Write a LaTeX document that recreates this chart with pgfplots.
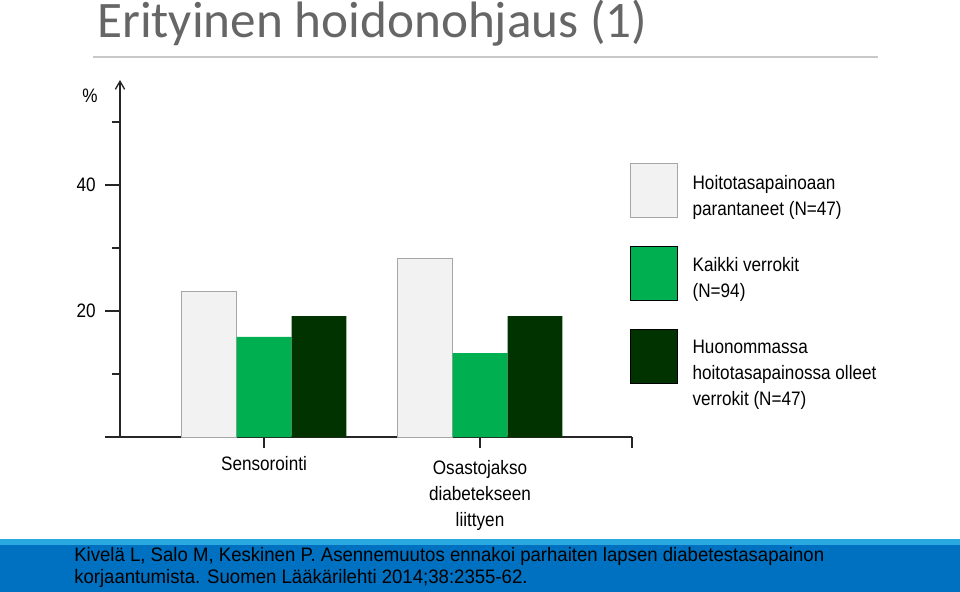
\documentclass[border=0pt]{standalone}
\usepackage{fontspec}
\setmainfont{Liberation Sans}
\newfontfamily\narrow[FakeStretch=0.88]{Liberation Sans}
\newfontfamily\refnarrow[FakeStretch=0.955]{Liberation Sans}
\newfontfamily\titlefont{Carlito}
\usepackage{pgfplots}
\pgfplotsset{compat=1.18}
\usetikzlibrary{arrows.meta}

\definecolor{lightbar}{HTML}{F2F2F2}
\definecolor{lightedge}{HTML}{A6A6A6}
\definecolor{midgreen}{HTML}{00B050}
\definecolor{darkgreen}{HTML}{003300}
\definecolor{bandblue}{HTML}{0070C0}
\definecolor{bandlight}{HTML}{2AA8E0}
\definecolor{titlegray}{HTML}{666666}
\definecolor{rulegray}{HTML}{C8C8C8}
\definecolor{axisgray}{HTML}{262626}

\newcommand{\chartfont}{\narrow\fontsize{14.6}{19.5}\selectfont}

\begin{document}
\begin{tikzpicture}
% coordinates in this scope are pixels of the 960x592 slide, y pointing down
\begin{scope}[x=0.75pt,y=-0.75pt]
\path[use as bounding box] (0,0) rectangle (960,592);

% title and rule
\node[anchor=base west, inner sep=0, text=titlegray,
      font=\titlefont\fontsize{38.4}{40}\selectfont] at (97,38) {Erityinen hoidonohjaus (1)};
\draw[rulegray, line width=1.5pt] (93,57) -- (878,57);

% reference band
\fill[bandlight] (0,539) rectangle (960,546);
\fill[bandblue] (0,545) rectangle (960,592);
\node[anchor=base west, inner sep=0, font=\refnarrow\fontsize{14.6}{16.5}\selectfont] at (74,561)
  {Kivelä L, Salo M, Keskinen P. Asennemuutos ennakoi parhaiten lapsen diabetestasapainon};
\node[anchor=base west, inner sep=0, font=\refnarrow\fontsize{14.6}{16.5}\selectfont] at (74,583)
  {korjaantumista. Suomen Lääkärilehti 2014;38:2355-62.};

% unit
\node[font=\chartfont, inner sep=0] at (90,96) {\%};
\end{scope}

\begin{axis}[
  at={(90pt,-327.75pt)}, anchor=south west,
  scale only axis, width=384pt, height=267.75pt,
  xmin=-0.6667, xmax=1.7037,
  ymin=0, ymax=56.67,
  axis x line=bottom, axis y line=left,
  axis line style={axisgray, line width=1pt},
  x axis line style={-},
  y axis line style={-{Straight Barb[length=6pt,width=7pt]}},
  tick style={axisgray, line width=1pt},
  tick align=outside,
  major tick length=11.25pt,
  minor tick length=6pt,
  ytick={0,20,40}, yticklabels={,20,40},
  minor ytick={10,30,50},
  xtick=\empty,
  extra x ticks={0,1,1.7037},
  extra x tick labels={Sensorointi,{\rule{0pt}{13.25pt}Osastojakso\\diabetekseen\\liittyen},{}},
  extra x tick style={major tick length=8.25pt,
    tick label style={align=center, yshift=-3pt}},
  /pgf/number format/assume math mode=true,
  tick label style={font=\chartfont},
  yticklabel style={xshift=-3.4pt},
  legend style={draw=none, fill=none, inner sep=0pt, outer sep=0pt,
    at={(0.996,0.7675)}, anchor=north west,
    row sep=19.5pt, column sep=9pt,
    cells={anchor=north west, align=left},
    nodes={yshift=-6.75pt},
    font=\chartfont},
  legend image code/.code={\draw[#1] (0pt,0pt) rectangle (35.25pt,-40.5pt);},
]
\addplot[ybar, bar width=0.2546, bar shift=-0.2546,
  fill=lightbar, draw=lightedge, line width=0.75pt]
  coordinates {(0,23.1) (1,28.3)};
\addlegendentry{Hoitotasapainoaan\\parantaneet (N=47)}
\addplot[ybar, bar width=0.2546, bar shift=0,
  fill=midgreen, draw=none]
  coordinates {(0,15.9) (1,13.3)};
\addlegendentry{Kaikki verrokit\\(N=94)}
\addplot[ybar, bar width=0.2546, bar shift=0.2546,
  fill=darkgreen, draw=none]
  coordinates {(0,19.2) (1,19.2)};
\addlegendentry{Huonommassa\\hoitotasapainossa olleet\\verrokit (N=47)}
\end{axis}
\end{tikzpicture}
\end{document}
